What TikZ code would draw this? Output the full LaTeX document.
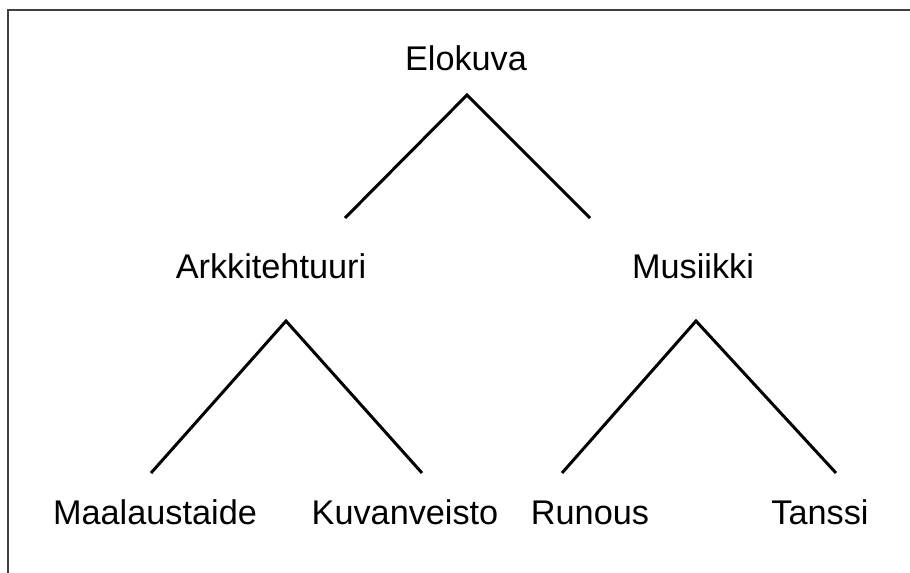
\documentclass[tikz,border=0pt]{standalone}
\usepackage{fontspec}
\setmainfont{Liberation Sans}
\begin{document}
\begin{tikzpicture}[x=0.02cm, y=-0.02cm,
		  word/.style={anchor=base, inner sep=0pt, font=\fontsize{19.5}{23}\selectfont},
		  branch/.style={line width=1.7pt, line join=miter}]
		  \useasboundingbox (0,0) rectangle (910,572);
		  \begin{scope}
		      \clip (0,0) rectangle (910,572);
		      \draw[line width=1.3pt, black!75] (8,10) rectangle (930,600);
		  \end{scope}
		  % words
		  \node[word] (elokuva) at (466,70) {Elokuva};
		  \node[word] (arkki) at (271,278) {Arkkitehtuuri};
		  \node[word] (musiikki) at (693,278) {Musiikki};
		  \node[word] (maalaus) at (155,524) {Maalaustaide};
		  \node[word] (kuvan) at (405,524) {Kuvanveisto};
		  \node[word] (runous) at (590,524) {Runous};
		  \node[word] (tanssi) at (820,524) {Tanssi};
		  % branch ends
		  \coordinate (elokuva tip) at (467,95);
		  \coordinate (elokuva l) at (345,218);
		  \coordinate (elokuva r) at (590,218);
		  \coordinate (arkki tip) at (286,321);
		  \coordinate (arkki l) at (151,473);
		  \coordinate (arkki r) at (422,473);
		  \coordinate (musiikki tip) at (696,321);
		  \coordinate (musiikki l) at (562,473);
		  \coordinate (musiikki r) at (836,473);
		  \foreach \n in {elokuva, arkki, musiikki}{
		      \draw[branch] (\n\space l) -- (\n\space tip) -- (\n\space r);
		  }
	\end{tikzpicture}
\end{document}
